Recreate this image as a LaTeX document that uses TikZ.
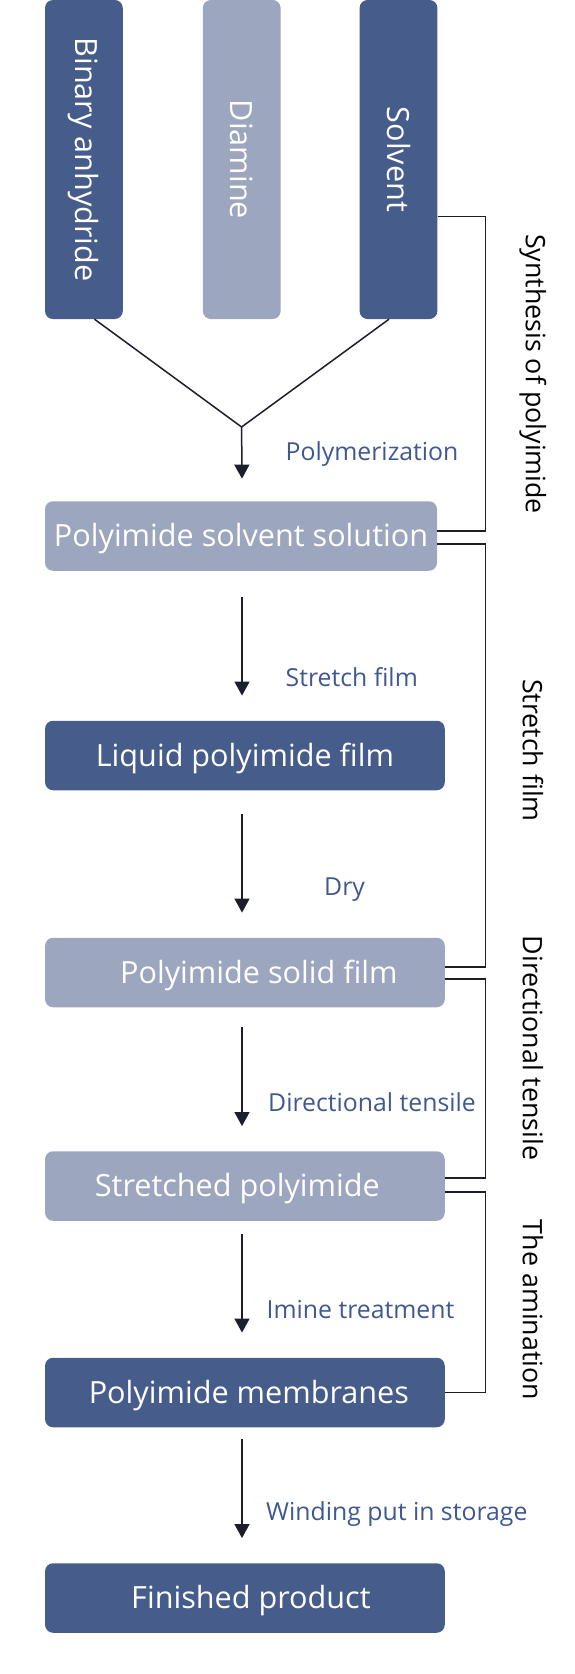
\documentclass[tikz,border=0pt]{standalone}
\usepackage{fontspec}
\setmainfont{Open Sans}
\usepackage{graphicx}
\usetikzlibrary{arrows.meta,calc}
\definecolor{boxdark}{HTML}{465C8B}
\definecolor{boxlight}{HTML}{9CA6BF}
\definecolor{steptext}{HTML}{3F5890}
\definecolor{linecol}{HTML}{1C1E2B}
\tikzset{
  box/.style={rounded corners=8pt, inner sep=0pt, text=white,
    font=\fontsize{30.6}{36}\selectfont, minimum height=69.5pt},
  darkbox/.style={box, fill=boxdark},
  lightbox/.style={box, fill=boxlight},
  tallbox/.style={minimum width=77.8pt, minimum height=319pt},
  widebox/.style={minimum width=399.7pt, text height=21.8pt, text depth=0pt},
  flow/.style={draw=linecol, line width=1.5pt, -{Triangle[width=15pt,length=14pt]}},
  bracket/.style={draw=linecol, line width=1.5pt},
  steplabel/.style={anchor=west, inner sep=0pt, text=steptext,
    font=\fontsize{24.8}{29}\selectfont},
  sidelabel/.style={inner sep=0pt, text=black, font=\fontsize{26.8}{31}\selectfont}
}
\begin{document}
\begin{tikzpicture}[x=1pt, y=-1pt]
    \useasboundingbox (0,0) rectangle (574,1674);
    % 定義原料
    \node[darkbox, tallbox] (bin) at (83.9,159.5) {\rotatebox{-90}{Binary anhydride}};
    \node[lightbox, tallbox] (dia) at (241.7,159.5) {\rotatebox{-90}{Diamine}};
    \node[darkbox, tallbox] (sol) at (398.5,159.5) {\rotatebox{-90}{Solvent}};

    % 定義流程步驟
    \node[lightbox, widebox, minimum width=392pt] (pss) at (241,536) {Polyimide solvent solution};
    \node[darkbox, widebox] (lpf) at (244.9,755.5) {Liquid polyimide film};
    \node[lightbox, widebox] (psf) at (244.9,972.5) {\hspace*{28pt}Polyimide solid film};
    \node[lightbox, widebox] (sp) at (244.9,1186) {Stretched polyimide\hspace*{15pt}};
    \node[darkbox, widebox] (pm) at (244.9,1392.5) {\hspace*{8pt}Polyimide membranes};
    \node[darkbox, widebox] (fp) at (244.9,1598) {\hspace*{12pt}Finished product};

    % 定義輔助點
    \coordinate (join) at (241.6,427);
    \coordinate (axis) at (242,0);
    \coordinate (rail) at (485.7,0);

    % 畫出匯合線
    \draw[bracket] ($(bin.south)+(10.6,0)$) -- (join);
    \draw[bracket] ($(sol.south)+(-9.5,0)$) -- (join);

    % 畫出箭頭
    \draw[flow] (join) -- ($(pss.north -| axis)+(0,-22.4)$);
    \draw[flow] ($(pss.south -| axis)+(0,26)$) -- ($(lpf.north -| axis)+(0,-25)$);
    \draw[flow] ($(lpf.south -| axis)+(0,24)$) -- ($(psf.north -| axis)+(0,-25)$);
    \draw[flow] ($(psf.south -| axis)+(0,20)$) -- ($(sp.north -| axis)+(0,-25)$);
    \draw[flow] ($(sp.south -| axis)+(0,13)$) -- ($(pm.north -| axis)+(0,-25)$);
    \draw[flow] ($(pm.south -| axis)+(0,12)$) -- ($(fp.north -| axis)+(0,-25)$);

    % 畫出步驟說明
    \node[steplabel] (lpoly) at (285.5,454) {Polymerization};
    \node[steplabel] (lstretch) at (285.5,677) {Stretch film};
    \node[steplabel] (ldry) at (324,890) {Dry};
    \node[steplabel] (ltensile) at (268,1102) {Directional tensile};
    \node[steplabel] (limine) at (266.5,1310) {Imine treatment};
    \node[steplabel] (lwind) at (266,1514) {Winding put in storage};

    % 畫出階段括號
    \draw[bracket] ($(sol.east)+(0,57)$) -| ($(pss.east -| rail)+(0,-5)$) -- ($(pss.east)+(0,-5)$);
    \draw[bracket] ($(pss.east)+(0,8)$) -| ($(psf.east -| rail)+(0,-5.5)$) -- ($(psf.east)+(0,-5.5)$);
    \draw[bracket] ($(psf.east)+(0,6.5)$) -| ($(sp.east -| rail)+(0,-8)$) -- ($(sp.east)+(0,-8)$);
    \draw[bracket] ($(sp.east)+(0,6)$) -| (pm.east -| rail) -- (pm.east);

    % 畫出階段名稱
    \node[sidelabel] (ssyn) at (533,374) {\rotatebox{-90}{Synthesis of polyimide}};
    \node[sidelabel] (sstretch) at (533,750.5) {\rotatebox{-90}{Stretch film}};
    \node[sidelabel] (stensile) at (533,1048) {\rotatebox{-90}{Directional tensile}};
    \node[sidelabel] (samin) at (533,1310) {\rotatebox{-90}{The amination}};
\end{tikzpicture}
\end{document}
